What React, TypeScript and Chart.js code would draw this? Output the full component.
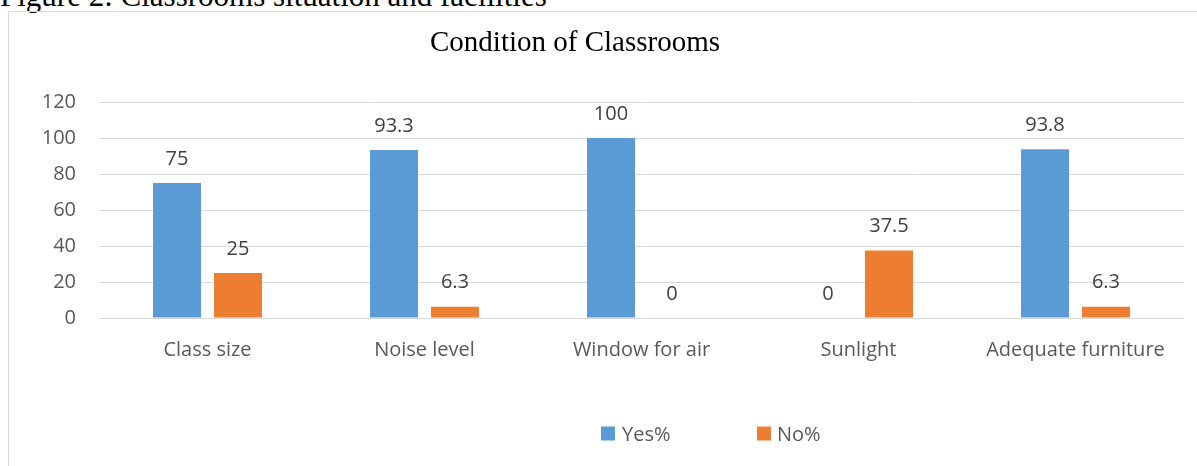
import React, { useEffect, useRef } from "react";
import { Chart, registerables } from "chart.js";

Chart.register(...registerables);

const categories = ["Class size", "Noise level", "Window for air", "Sunlight", "Adequate furniture"];
const yesValues = [75, 93.3, 100, 0, 93.8];
const noValues = [25, 6.3, 0, 37.5, 6.3];
const seriesNames = ["Yes%", "No%"];
const seriesColors = ["#5B9BD5", "#ED7D31"];
const chartTitle = "Condition of Classrooms";
const captionText = "Figure 2: Classrooms situation and facilities";

const SANS = '"Open Sans", sans-serif';
const SERIF = '"Liberation Serif", "Times New Roman", serif';

const overlayPlugin = {
  id: "overlay",
  afterDatasetsDraw(chart: any) {
    const ctx = chart.ctx;
    ctx.save();
    // data labels
    ctx.font = `20px ${SANS}`;
    ctx.fillStyle = "#404040";
    ctx.textAlign = "center";
    ctx.textBaseline = "alphabetic";
    chart.data.datasets.forEach((ds: any, di: number) => {
      const meta = chart.getDatasetMeta(di);
      meta.data.forEach((el: any, i: number) => {
        const v = ds.data[i];
        ctx.fillText(String(v), el.x, el.y - 18.5);
      });
    });
    // title
    ctx.font = `29px ${SERIF}`;
    ctx.fillStyle = "#000000";
    ctx.textAlign = "center";
    ctx.fillText(chartTitle, 566, 39);
    // legend
    const legendItems = [
      { x: 592, tx: 613 },
      { x: 748, tx: 768 },
    ];
    ctx.font = `20px ${SANS}`;
    ctx.textAlign = "left";
    legendItems.forEach((it, i) => {
      ctx.fillStyle = seriesColors[i];
      ctx.fillRect(it.x, 414.5, 14, 14);
      ctx.fillStyle = "#595959";
      ctx.fillText(seriesNames[i], it.tx, 429);
    });
    ctx.restore();
  },
};

export default function App() {
  const ref = useRef<HTMLCanvasElement>(null);
  useEffect(() => {
    if (!ref.current) return;
    const chart = new Chart(ref.current, {
      type: "bar",
      data: {
        labels: categories,
        datasets: [
          {
            label: seriesNames[0],
            data: yesValues,
            backgroundColor: seriesColors[0],
            categoryPercentage: 0.562,
            barPercentage: 0.787,
          },
          {
            label: seriesNames[1],
            data: noValues,
            backgroundColor: seriesColors[1],
            categoryPercentage: 0.562,
            barPercentage: 0.787,
          },
        ],
      },
      options: {
        responsive: false,
        animation: false,
        devicePixelRatio: 1,
        layout: { padding: { top: 90, right: 13, bottom: 0, left: 0 } },
        plugins: {
          legend: { display: false },
          title: { display: false },
          tooltip: { enabled: false },
        },
        scales: {
          x: {
            grid: { display: false },
            border: { display: false },
            ticks: {
              color: "#595959",
              font: { family: SANS, size: 20 },
              padding: 12,
              maxRotation: 0,
              autoSkip: false,
            },
            afterFit: (s: any) => {
              s.height = 148;
            },
          },
          y: {
            min: 0,
            max: 120,
            grid: { color: "#d9d9d9", drawTicks: false, lineWidth: 1 },
            border: { display: false },
            ticks: {
              stepSize: 20,
              color: "#595959",
              font: { family: SANS, size: 20 },
              padding: 23,
            },
            afterFit: (s: any) => {
              s.width = 90;
            },
          },
        },
      },
      plugins: [overlayPlugin],
    } as any);
    return () => chart.destroy();
  }, []);

  return (
    <div
      style={{
        position: "fixed",
        left: 0,
        top: 0,
        width: 1197,
        height: 466,
        overflow: "hidden",
        background: "#ffffff",
      }}
    >
      <div
        style={{
          position: "absolute",
          left: 0,
          top: -20,
          font: `31px ${SERIF}`,
          lineHeight: 1,
          whiteSpace: "nowrap",
          color: "#000",
        }}
      >
        {captionText}
      </div>
      <div
        style={{
          position: "absolute",
          left: 8,
          top: 11,
          width: 1200,
          height: 470,
          border: "1px solid #d9d9d9",
        }}
      >
        <canvas
          ref={ref}
          width={1188}
          height={454}
          style={{ position: "absolute", left: 0, top: 0, width: 1188, height: 454 }}
        />
      </div>
    </div>
  );
}
